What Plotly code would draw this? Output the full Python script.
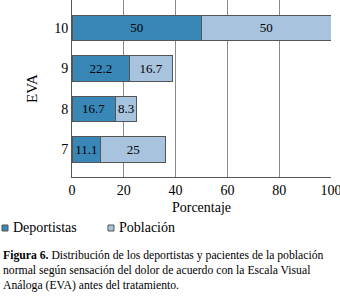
import plotly.graph_objects as go

categories = ["7", "8", "9", "10"]
deportistas = [11.1, 16.7, 22.2, 50]
poblacion = [25, 8.3, 16.7, 50]
x_ticks = [0, 20, 40, 60, 80, 100]
series_names = ["Deportistas", "Población"]
series_colors = ["#3987b6", "#a7c3dd"]

SERIF = "'Liberation Serif', 'Times New Roman', 'DejaVu Serif', serif"
W, H = 340, 296
L, R, T, B = 72, 9, 0, 119
pw = W - L - R
ph = H - T - B

def px(x):
    return (x - L) / pw

def py(y):
    return 1 - (y - T) / ph

fig = go.Figure()
for name, vals, col in zip(series_names, [deportistas, poblacion], series_colors):
    fig.add_trace(go.Bar(
        y=[int(c) for c in categories], x=vals, orientation="h", name=name,
        marker=dict(color=col, line=dict(color="#555555", width=1)),
        text=[str(v) for v in vals], textposition="inside", insidetextanchor="middle",
        textangle=0, constraintext="none",
        textfont=dict(color="black", size=13, family=SERIF), width=0.62,
    ))

fig.update_layout(
    width=W, height=H, barmode="stack",
    margin=dict(l=L, r=R, t=T, b=B, autoexpand=False),
    paper_bgcolor="white", plot_bgcolor="white",
    font=dict(family=SERIF, size=14, color="black"),
    uniformtext=dict(minsize=13, mode="show"),
    showlegend=False,
)
fig.update_xaxes(range=[0, 100], tickvals=x_ticks, showgrid=True, gridcolor="#8a8a8a",
                 gridwidth=1, showline=True, linecolor="#555555", linewidth=1,
                 zeroline=False, ticks="", tickfont=dict(size=14),
                 ticklabeloverflow="allow", automargin=False,
                 title=dict(text="Porcentaje", font=dict(size=14), standoff=5))
fig.update_yaxes(range=[6.32, 10.69], tickvals=[int(c) for c in categories],
                 ticktext=categories, showgrid=False, showline=True,
                 linecolor="#555555", linewidth=1, zeroline=False, ticks="",
                 tickfont=dict(size=14), automargin=False,
                 title=dict(text="EVA", font=dict(size=15), standoff=12))

# manual legend
legend_x = [2, 108]
for name, col, lx in zip(series_names, series_colors, legend_x):
    fig.add_shape(type="rect", xref="paper", yref="paper",
                  x0=px(lx), x1=px(lx + 6), y0=py(225), y1=py(231),
                  fillcolor=col, line=dict(color="#555555", width=1))
    fig.add_annotation(text=name, xref="paper", yref="paper", x=px(lx + 9), y=py(228),
                       xanchor="left", yanchor="middle", showarrow=False,
                       font=dict(size=14, family=SERIF, color="black"))

caption = [
    ("<b>Figura 6.</b> Distribución de los deportistas y pacientes de la población", 255),
    ("normal según sensación del dolor de acuerdo con la Escala Visual", 270),
    ("Análoga (EVA) antes del tratamiento.", 285),
]
for txt, y in caption:
    fig.add_annotation(text=txt, xref="paper", yref="paper", x=px(1), y=py(y),
                       xanchor="left", yanchor="middle", showarrow=False,
                       font=dict(size=11.7, family=SERIF, color="black"))

fig.write_html("out.html", config={"displayModeBar": False},
               post_script="document.body.style.margin='0';document.body.style.overflow='hidden';")
